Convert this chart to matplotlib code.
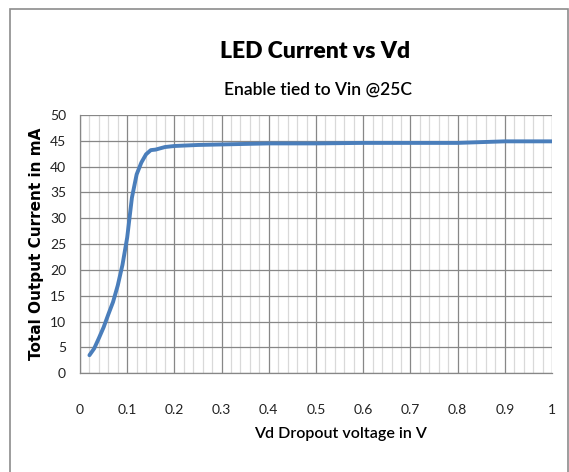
# LED current vs dropout voltage

import matplotlib
matplotlib.use("Agg")
import matplotlib.pyplot as plt
from matplotlib.patches import Rectangle
from matplotlib.ticker import MultipleLocator

# --- Data ---
vd = [0.02, 0.03, 0.04, 0.05, 0.06, 0.07, 0.08, 0.09, 0.10, 0.11, 0.12, 0.13,
      0.14, 0.15, 0.16, 0.18, 0.20, 0.25, 0.30, 0.40, 0.50, 0.60, 0.70, 0.80,
      0.90, 1.00]
current_ma = [3.5, 4.8, 6.8, 8.9, 11.4, 13.8, 17.0, 21.0, 26.3, 34.0, 38.5, 40.8,
              42.4, 43.2, 43.3, 43.8, 44.0, 44.2, 44.3, 44.5, 44.5, 44.6, 44.6, 44.6,
              44.9, 44.9]
x_ticks = [0, 0.1, 0.2, 0.3, 0.4, 0.5, 0.6, 0.7, 0.8, 0.9, 1]
x_ticklabels = ["0", "0.1", "0.2", "0.3", "0.4", "0.5", "0.6", "0.7", "0.8", "0.9", "1"]
y_ticks = [0, 5, 10, 15, 20, 25, 30, 35, 40, 45, 50]

font = ["Lato", "DejaVu Sans"]

fig = plt.figure(figsize=(5.69, 4.72), dpi=100)
fig.patch.set_facecolor("white")

# outer chart frame (bottom edge runs off the image)
fig.patches.append(Rectangle((10, -10), 558, 473, transform=None, fill=False,
                             edgecolor="#8c8c8c", linewidth=1.2))

ax = fig.add_axes([80 / 569, (472 - 373.3) / 472, 472 / 569, 258.3 / 472])
ax.plot(vd, current_ma, color="#4a7ebb", linewidth=2.8, solid_capstyle="round")

ax.set_xlim(0, 1)
ax.set_ylim(0, 50)
ax.set_xticks(x_ticks)
ax.set_xticklabels(x_ticklabels)
ax.set_yticks(y_ticks)
ax.xaxis.set_minor_locator(MultipleLocator(0.02))

ax.grid(which="major", color="#878787", linewidth=0.9)
ax.grid(which="minor", axis="x", color="#d9d9d9", linewidth=0.9)
ax.set_axisbelow(True)
for side in ["top", "right"]:
    ax.spines[side].set_visible(False)
for side in ["left", "bottom"]:
    ax.spines[side].set_color("#878787")
    ax.spines[side].set_linewidth(0.9)

ax.tick_params(which="both", length=0)
ax.tick_params(axis="x", pad=22, labelsize=10, labelcolor="#222222")
ax.tick_params(axis="y", pad=10, labelsize=10, labelcolor="#222222")
for lbl in ax.get_xticklabels() + ax.get_yticklabels():
    lbl.set_family(font)

ax.set_ylabel("Total Output Current in mA", fontsize=11, fontweight="bold",
              family="DejaVu Sans", labelpad=4)

fig.text(340 / 569, 1 - 434 / 472, "Vd Dropout voltage in V", ha="center", va="center",
         family=font, fontsize=11.5, fontweight="semibold")
fig.text(315 / 569, 1 - 52 / 472, "LED Current vs Vd", ha="center", va="center",
         family=font, fontsize=16.5, fontweight="heavy")
fig.text(318 / 569, 1 - 90 / 472, "Enable tied to Vin @25C", ha="center", va="center",
         family=font, fontsize=12.5, fontweight="semibold")

fig.savefig("out.png", dpi=100)
